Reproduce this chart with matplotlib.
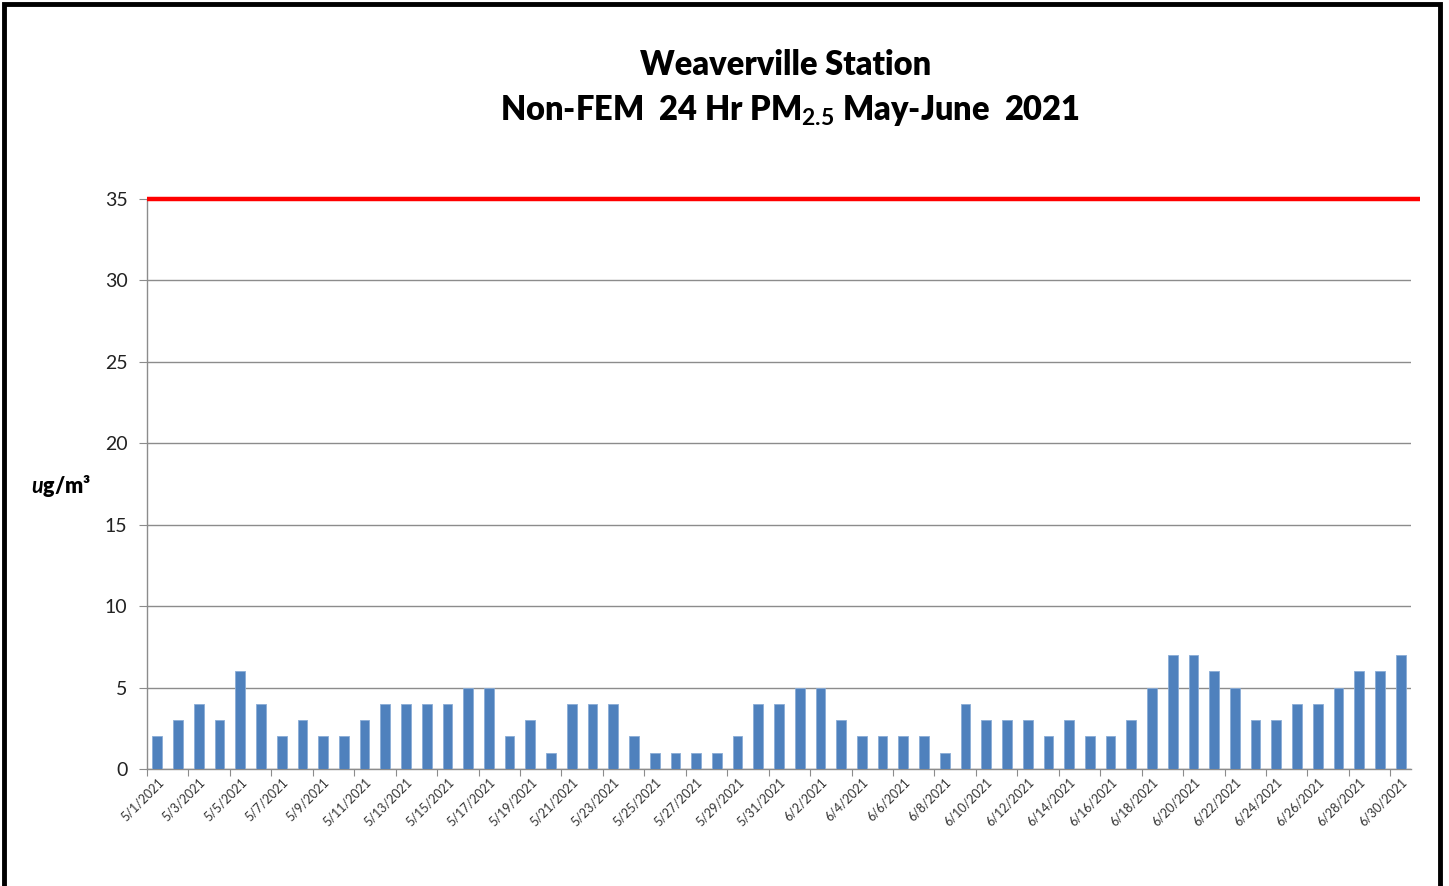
import pandas as pd
import matplotlib.pyplot as plt
from matplotlib.patches import Rectangle

plt.rcParams['font.family'] = ['Lato', 'DejaVu Sans']
plt.rcParams['mathtext.fontset'] = 'custom'
plt.rcParams['mathtext.rm'] = 'Lato:bold'
plt.rcParams['mathtext.it'] = 'Lato:italic:bold'

# daily Non-FEM 24 hr PM2.5, 5/1/2021 - 6/30/2021
may_vals = [2, 3, 4, 3, 6, 4, 2, 3, 2, 2, 3, 4, 4, 4, 4, 5, 5, 2, 3, 1, 4, 4, 4, 2, 1, 1, 1, 1, 2, 4, 4]
june_vals = [5, 5, 3, 2, 2, 2, 2, 1, 4, 3, 3, 3, 2, 3, 2, 2, 3, 5, 7, 7, 6, 5, 3, 3, 4, 4, 5, 6, 6, 7]
dates = pd.date_range('2021-05-01', '2021-06-30', freq='D')
labels = [f"{d.month}/{d.day}/{d.year}" for d in dates]
values = may_vals + june_vals
standard = 35
y_ticks = [0, 5, 10, 15, 20, 25, 30, 35]

fig = plt.figure(figsize=(14.49, 8.86), dpi=100)
ax = fig.add_axes([147/1449, 1-769/886, (1411-147)/1449, (769-199)/886])

x = list(range(len(values)))
ax.bar(x, values, width=0.47, color='#4F81BD', edgecolor='#8AACD6', linewidth=0.6, zorder=3)

ax.set_xlim(-0.5, len(values) - 0.5)
ax.set_ylim(0, 35)
ax.set_yticks(y_ticks)
ax.yaxis.grid(True, color='#8c8c8c', linewidth=1)
ax.set_axisbelow(True)

# 35 ug/m3 standard line, runs slightly past plot area
ax.plot([-0.5, len(values) - 0.05], [standard, standard], color='#ff0000', linewidth=3.2,
        clip_on=False, zorder=4, solid_capstyle='butt')

ax.set_xticks([i - 0.5 for i in range(0, len(values) + 1, 2)])
ax.set_xticklabels([])
ax.set_xticks(x[::2], minor=True)
ax.set_xticklabels(labels[::2], minor=True, rotation=45, ha='right', rotation_mode='anchor',
                   fontsize=9, color='#333333')
ax.tick_params(axis='x', which='minor', length=0, pad=5)
ax.tick_params(axis='x', which='major', length=5, color='#8c8c8c')
ax.tick_params(axis='y', length=6, color='#8c8c8c', labelsize=14, labelcolor='#222222', pad=8)

for s in ['top', 'right']:
    ax.spines[s].set_visible(False)
for s in ['left', 'bottom']:
    ax.spines[s].set_color('#8c8c8c')
    ax.spines[s].set_linewidth(1)

fig.text(786/1449, 1-65/886, 'Weaverville Station', ha='center', va='center',
         fontsize=23.5, fontweight='heavy')
fig.text(790/1449, 1-110/886, r'Non-FEM  24 Hr PM$_{2.5}$ May-June  2021', ha='center', va='center',
         fontsize=23.5, fontweight='heavy')
fig.text(61/1449, 1-486/886, r'$\it{u}$g/m³', ha='center', va='center',
         fontsize=15.5, fontweight='heavy')

# outer frame
fig.patches.append(Rectangle((4/1449, -0.02), (1440-4)/1449, 1.02-4/886, transform=fig.transFigure,
                             fill=False, edgecolor='black', linewidth=3.5))

fig.savefig('out.png', dpi=100)
